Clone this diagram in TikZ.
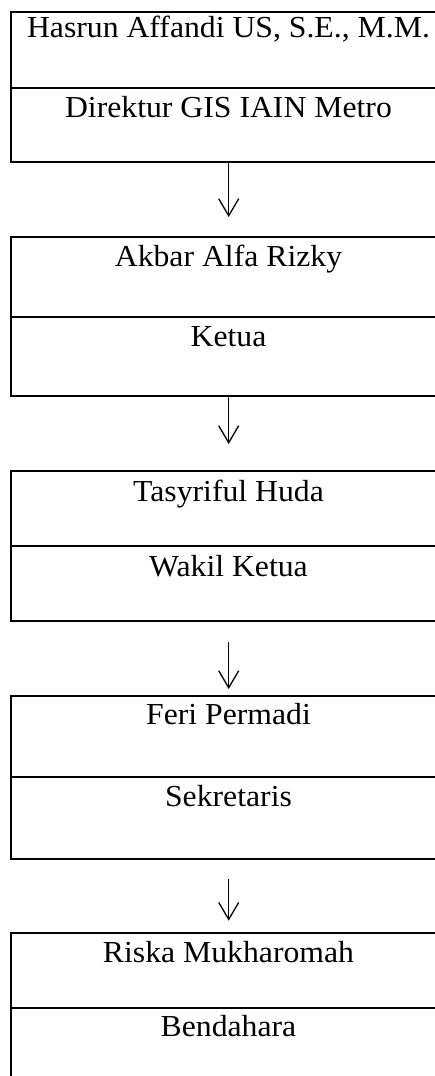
\documentclass[tikz,border=0pt]{standalone}
\usepackage{fontspec}
\setmainfont{Liberation Serif}[FakeStretch=1.04]
\usetikzlibrary{arrows.meta}
\tikzset{
  cell/.style={draw, line width=2pt, minimum width=436pt, inner sep=0pt, outer sep=0pt, anchor=north west},
  lab/.style={anchor=base, inner sep=0pt, font=\fontsize{30.5}{36}\selectfont},
  conn/.style={line width=1.3pt, -{Straight Barb[length=17pt,width=20pt,line width=1.3pt]}}
}
\begin{document}
\begin{tikzpicture}[x=1pt,y=-1pt]
\clip (0,0) rectangle (435,1076);
\fill[white] (0,0) rectangle (435,1076);
% box 1
\node[cell, minimum height=75.5pt] (c1a) at (11,12) {};
\node[cell, minimum height=74.5pt] (c1b) at (11,87.5) {};
\node[lab] (t1a) at (228.5,37) {Hasrun Affandi US, S.E., M.M.};
\node[lab] (t1b) at (228.5,117) {Direktur GIS IAIN Metro};
% box 2
\node[cell, minimum height=79.7pt] (c2a) at (11,237) {};
\node[cell, minimum height=78.8pt] (c2b) at (11,316.7) {};
\node[lab] (t2a) at (228.5,266) {Akbar Alfa Rizky};
\node[lab] (t2b) at (228.5,346) {Ketua};
% box 3
\node[cell, minimum height=75pt] (c3a) at (11,471) {};
\node[cell, minimum height=75pt] (c3b) at (11,546) {};
\node[lab] (t3a) at (228.5,501) {Tasyriful Huda};
\node[lab] (t3b) at (228.5,576) {Wakil Ketua};
% box 4
\node[cell, minimum height=81pt] (c4a) at (11,696) {};
\node[cell, minimum height=82pt] (c4b) at (11,777) {};
\node[lab] (t4a) at (228.5,724) {Feri Permadi};
\node[lab] (t4b) at (228.5,806.7) {Sekretaris};
% box 5
\node[cell, minimum height=75pt] (c5a) at (11,933) {};
\node[cell, minimum height=80pt] (c5b) at (11,1008) {};
\node[lab] (t5a) at (228.5,962) {Riska Mukharomah};
\node[lab] (t5b) at (228.5,1036.7) {Bendahara};
% arrows
\coordinate (a1s) at (228.7,162);
\coordinate (a1e) at (228.7,217);
\coordinate (a2s) at (228.7,395.5);
\coordinate (a2e) at (228.7,444);
\coordinate (a3s) at (228.7,641.7);
\coordinate (a3e) at (228.7,689);
\coordinate (a4s) at (228.7,879);
\coordinate (a4e) at (228.7,920.7);
\draw[conn] (a1s) -- (a1e);
\draw[conn] (a2s) -- (a2e);
\draw[conn] (a3s) -- (a3e);
\draw[conn] (a4s) -- (a4e);
\end{tikzpicture}
\end{document}
